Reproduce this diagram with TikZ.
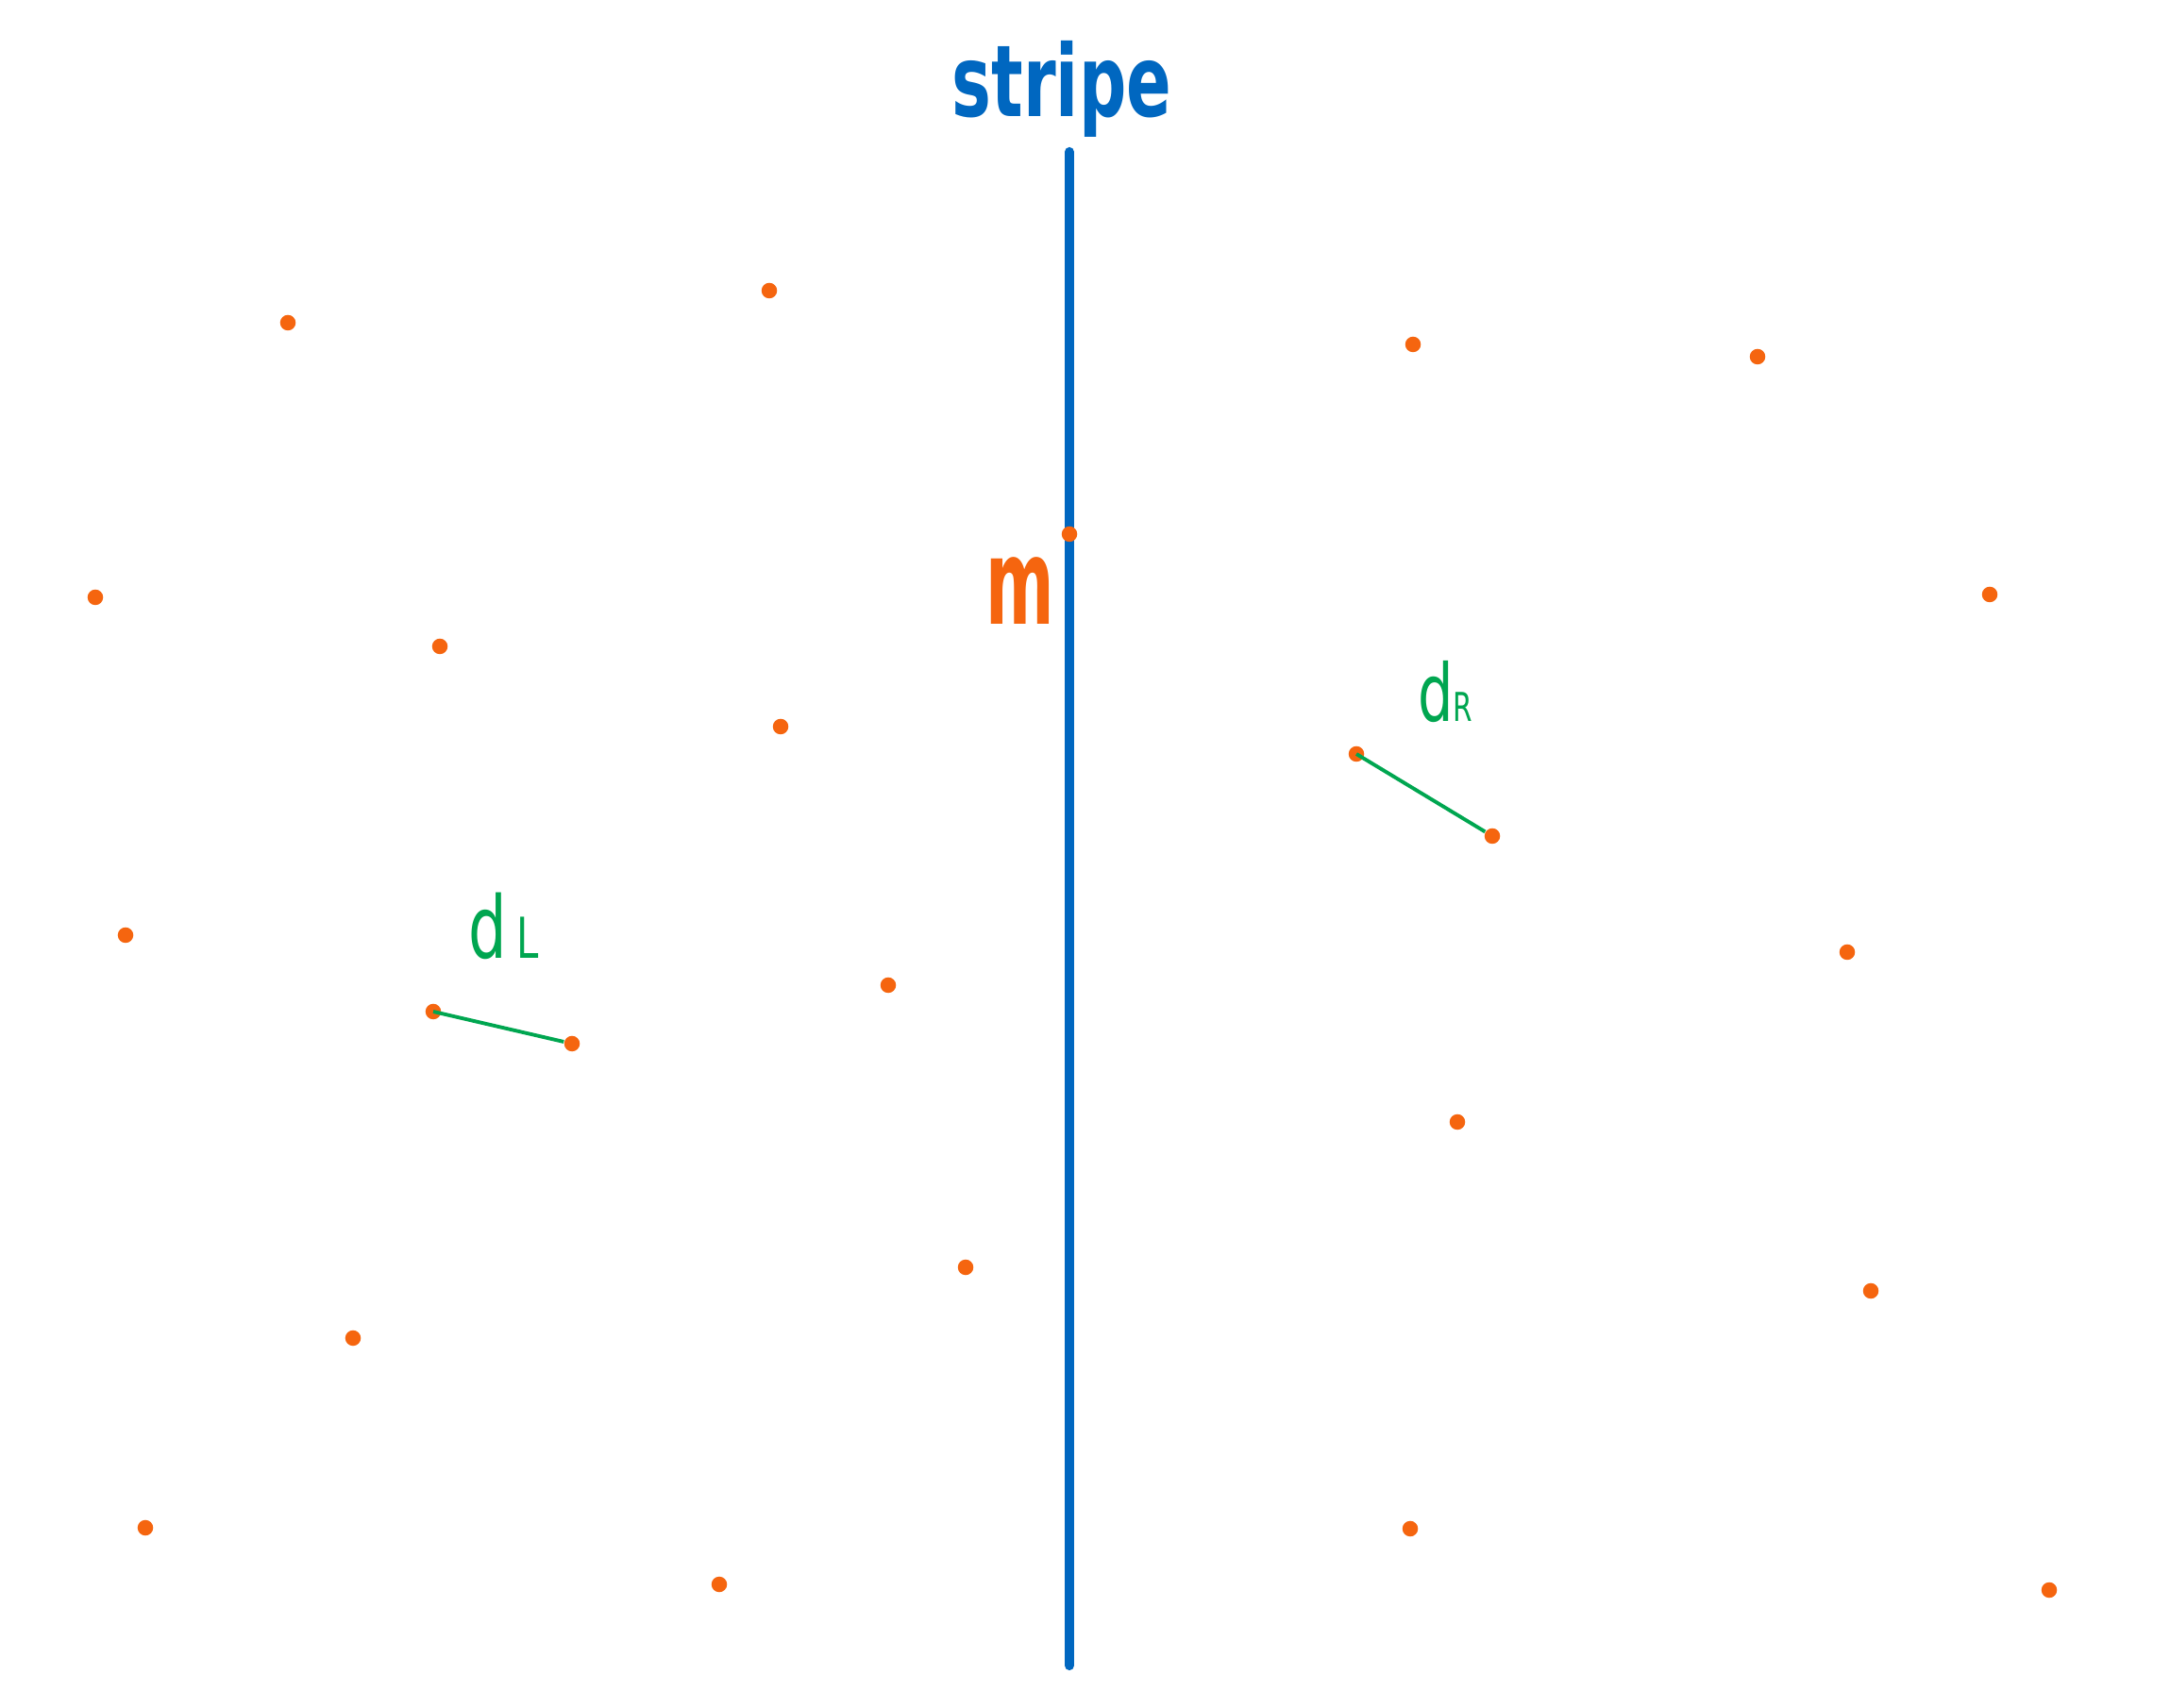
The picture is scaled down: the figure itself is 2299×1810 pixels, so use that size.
\documentclass[tikz,border=0pt]{standalone}
\usepackage{fontspec}
\setmainfont{DejaVu Sans}
\definecolor{sblue}{HTML}{0067C0}
\definecolor{sorange}{HTML}{F5650F}
\definecolor{sgreen}{HTML}{00A650}
\begin{document}
\begin{tikzpicture}[x=0.01cm,y=-0.01cm,
  pt/.style={circle,fill=sorange,inner sep=0pt,minimum size=0.165cm},
  dline/.style={sgreen,line width=1.1pt},
  lbl/.style={inner sep=0pt,anchor=base}]
\useasboundingbox[fill=white] (0,0) rectangle (2299,1810);
\coordinate (top) at (1133,161);
\coordinate (bot) at (1133,1765);
\draw[sblue,line width=2.9pt,line cap=round] (top) -- (bot);
\node[lbl,text=sblue,font=\fontsize{20}{20}\selectfont\bfseries,yscale=1.5] (title) at (1125,124) {stripe};
\node[lbl,text=sorange,font=\fontsize{36}{36}\selectfont\bfseries,xscale=0.55] (mlabel) at (1081,662) {m};
\node[lbl,text=sgreen,font=\fontsize{26}{26}\selectfont,xscale=0.7] (dl) at (534,1016) {d\,{\fontsize{17}{17}\selectfont L}};
\node[lbl,text=sgreen,font=\fontsize{24}{24}\selectfont,xscale=0.7] (dr) at (1531,765) {d{\fontsize{12}{12}\selectfont R}};
% points
\node[pt] (p1) at (305,342) {};
\node[pt] (p2) at (815,308) {};
\node[pt] (p3) at (101,633) {};
\node[pt] (p4) at (466,685) {};
\node[pt] (p5) at (827,770) {};
\node[pt] (p6) at (133,991) {};
\node[pt] (p7) at (459,1072) {};
\node[pt] (p8) at (606,1106) {};
\node[pt] (p9) at (941,1044) {};
\node[pt] (p10) at (374,1418) {};
\node[pt] (p11) at (154,1619) {};
\node[pt] (p12) at (762,1679) {};
\node[pt] (p13) at (1023,1343) {};
\node[pt] (pm) at (1133,566) {};
\node[pt] (q1) at (1497,365) {};
\node[pt] (q2) at (1862,378) {};
\node[pt] (q3) at (2108,630) {};
\node[pt] (q4) at (1437,799) {};
\node[pt] (q5) at (1581,886) {};
\node[pt] (q6) at (1957,1009) {};
\node[pt] (q7) at (1544,1189) {};
\node[pt] (q8) at (1982,1368) {};
\node[pt] (q9) at (1494,1620) {};
\node[pt] (q10) at (2171,1685) {};
\draw[dline] (p7.center) -- (p8);
\draw[dline] (q4.center) -- (q5);
\end{tikzpicture}
\end{document}
